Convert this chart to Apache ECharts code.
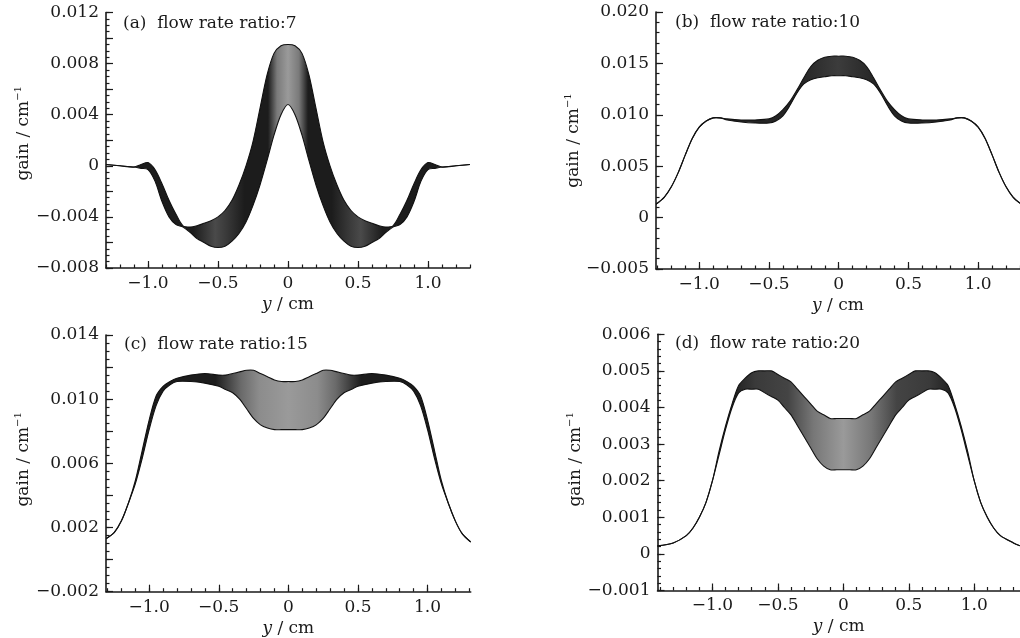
<!DOCTYPE html>
<html><head><meta charset="utf-8">
<script src="https://cdn.jsdelivr.net/npm/echarts@6/dist/echarts.min.js"></script>
<style>html,body{margin:0;padding:0;background:#fff}#c{width:1020px;height:638px}</style>
</head><body><div id="c"></div>
<script>
// ---------- data ----------
// (a) flow rate ratio 7 : envelope of the curve family
const aX = [-1.3,-1.2,-1.1,-1.05,-1.0,-0.95,-0.9,-0.85,-0.8,-0.75,-0.7,-0.65,-0.6,-0.55,-0.5,-0.45,-0.4,-0.35,-0.3,-0.25,-0.2,-0.15,-0.1,-0.05,0,
            0.05,0.1,0.15,0.2,0.25,0.3,0.35,0.4,0.45,0.5,0.55,0.6,0.65,0.7,0.75,0.8,0.85,0.9,0.95,1.0,1.05,1.1,1.2,1.3];
const aUpper = [0.0001,0.0000,-0.0001,0.0001,0.00025,-0.0003,-0.0014,-0.0027,-0.0038,-0.0047,-0.0048,-0.0047,-0.0045,-0.0043,-0.0040,-0.0035,-0.0027,-0.0015,0.0000,0.0019,0.0045,0.0071,0.0088,0.0094,0.0095,
            0.0094,0.0088,0.0071,0.0045,0.0019,0.0000,-0.0015,-0.0027,-0.0035,-0.0040,-0.0043,-0.0045,-0.0047,-0.0048,-0.0047,-0.0038,-0.0027,-0.0014,-0.0003,0.00025,0.0001,-0.0001,0.0000,0.0001];
const aLower = [0.0001,0.0000,-0.0001,-0.0002,-0.0003,-0.0012,-0.0028,-0.0040,-0.0046,-0.0048,-0.0052,-0.0057,-0.0060,-0.0063,-0.0064,-0.0063,-0.0059,-0.0053,-0.0044,-0.0031,-0.0015,0.0004,0.0024,0.0040,0.0048,
            0.0040,0.0024,0.0004,-0.0015,-0.0031,-0.0044,-0.0053,-0.0059,-0.0063,-0.0064,-0.0063,-0.0060,-0.0057,-0.0052,-0.0048,-0.0046,-0.0040,-0.0028,-0.0012,-0.0003,-0.0002,-0.0001,0.0000,0.0001];

// (b) flow rate ratio 10
const bX = [-1.31,-1.25,-1.2,-1.15,-1.1,-1.05,-1.0,-0.95,-0.9,-0.85,-0.8,-0.7,-0.6,-0.5,-0.45,-0.4,-0.35,-0.3,-0.25,-0.2,-0.15,-0.1,-0.05,0,
            0.05,0.1,0.15,0.2,0.25,0.3,0.35,0.4,0.45,0.5,0.6,0.7,0.8,0.85,0.9,0.95,1.0,1.05,1.1,1.15,1.2,1.25,1.3];
const bUpper = [0.0013,0.0020,0.0030,0.0044,0.0061,0.0077,0.0088,0.0094,0.0097,0.0097,0.0096,0.0095,0.0095,0.0096,0.0099,0.0105,0.0113,0.0124,0.0136,0.0147,0.0153,0.0156,0.0157,0.0157,
            0.0157,0.0156,0.0153,0.0147,0.0136,0.0124,0.0113,0.0105,0.0099,0.0096,0.0095,0.0095,0.0096,0.0097,0.0097,0.0094,0.0088,0.0077,0.0061,0.0044,0.0030,0.0020,0.0014];
const bLower = [0.0013,0.0020,0.0030,0.0044,0.0061,0.0077,0.0088,0.0094,0.0097,0.0097,0.0095,0.0093,0.0092,0.0092,0.0094,0.0099,0.0109,0.0121,0.0130,0.0134,0.0136,0.0137,0.0138,0.0138,
            0.0138,0.0137,0.0136,0.0134,0.0130,0.0121,0.0109,0.0099,0.0094,0.0092,0.0092,0.0093,0.0095,0.0097,0.0097,0.0094,0.0088,0.0077,0.0061,0.0044,0.0030,0.0020,0.0014];

// (c) flow rate ratio 15
const cX = [-1.31,-1.25,-1.2,-1.15,-1.1,-1.05,-1.0,-0.95,-0.9,-0.85,-0.8,-0.7,-0.6,-0.5,-0.45,-0.4,-0.35,-0.3,-0.25,-0.2,-0.15,-0.1,-0.05,0,
            0.05,0.1,0.15,0.2,0.25,0.3,0.35,0.4,0.45,0.5,0.6,0.7,0.8,0.85,0.9,0.95,1.0,1.05,1.1,1.15,1.2,1.25,1.31];
const cUpper = [0.0013,0.0017,0.0024,0.0035,0.0049,0.0068,0.0087,0.0102,0.0108,0.0111,0.0113,0.0115,0.0116,0.0115,0.0115,0.0116,0.0117,0.0118,0.0118,0.0116,0.0114,0.0112,0.0111,0.0111,
            0.0111,0.0112,0.0114,0.0116,0.0118,0.0118,0.0117,0.0116,0.0115,0.0115,0.0116,0.0115,0.0113,0.0111,0.0108,0.0102,0.0087,0.0068,0.0049,0.0035,0.0024,0.0016,0.0011];
const cLower = [0.0013,0.0017,0.0024,0.0035,0.0047,0.0063,0.0081,0.0096,0.0105,0.0109,0.0111,0.0111,0.0110,0.0108,0.0106,0.0104,0.0100,0.0094,0.0088,0.0084,0.0082,0.0081,0.0081,0.0081,
            0.0081,0.0081,0.0082,0.0084,0.0088,0.0094,0.0100,0.0104,0.0106,0.0108,0.0110,0.0111,0.0111,0.0109,0.0105,0.0096,0.0081,0.0063,0.0047,0.0035,0.0024,0.0016,0.0011];

// (d) flow rate ratio 20
const dX = [-1.42,-1.3,-1.2,-1.15,-1.1,-1.05,-1.0,-0.95,-0.9,-0.85,-0.8,-0.75,-0.7,-0.65,-0.6,-0.55,-0.5,-0.45,-0.4,-0.35,-0.3,-0.25,-0.2,-0.15,-0.1,-0.05,0,
            0.05,0.1,0.15,0.2,0.25,0.3,0.35,0.4,0.45,0.5,0.55,0.6,0.65,0.7,0.75,0.8,0.85,0.9,0.95,1.0,1.05,1.1,1.15,1.2,1.3,1.35];
const dUpper = [0.00022,0.0003,0.0005,0.0007,0.0010,0.0014,0.0020,0.0028,0.0035,0.0041,0.0046,0.0048,0.00495,0.0050,0.0050,0.0050,0.0049,0.0048,0.0047,0.0045,0.0043,0.0041,0.0039,0.0038,0.0037,0.0037,0.0037,
            0.0037,0.0037,0.0038,0.0039,0.0041,0.0043,0.0045,0.0047,0.0048,0.0049,0.0050,0.0050,0.0050,0.00495,0.0048,0.0046,0.0041,0.0035,0.0028,0.0020,0.0014,0.0010,0.0007,0.0005,0.0003,0.00022];
const dLower = [0.00022,0.0003,0.0005,0.0007,0.0010,0.0014,0.0020,0.0027,0.0034,0.0040,0.0044,0.0045,0.0045,0.0045,0.0044,0.0043,0.0042,0.0040,0.0038,0.0035,0.0032,0.0029,0.0026,0.0024,0.0023,0.0023,0.0023,
            0.0023,0.0023,0.0024,0.0026,0.0029,0.0032,0.0035,0.0038,0.0040,0.0042,0.0043,0.0044,0.0045,0.0045,0.0045,0.0044,0.0040,0.0034,0.0027,0.0020,0.0014,0.0010,0.0007,0.0005,0.0003,0.00022];

// tick labels
const xTickLabels = [-1.0,-0.5,0,0.5,1.0];
const aYTicks = [-0.008,-0.004,0,0.004,0.008,0.012];
const bYTicks = [-0.005,0,0.005,0.010,0.015,0.020];
const cYTicks = [-0.002,0.002,0.006,0.010,0.014];
const dYTicks = [-0.001,0,0.001,0.002,0.003,0.004,0.005,0.006];
const titles = ['(a)  flow rate ratio:7','(b)  flow rate ratio:10','(c)  flow rate ratio:15','(d)  flow rate ratio:20'];

// ---------- layout / style ----------
const FONT = 'DejaVu Serif';
const INK = '#1a1a1a';
function steps(min, max, step){
  const out=[]; const n0=Math.ceil(min/step-1e-9), n1=Math.floor(max/step+1e-9);
  for(let i=n0;i<=n1;i++) out.push(+(i*step).toFixed(6));
  return out;
}
function fmt(d){ return v => Math.abs(v)<1e-12 ? '0' : Number(v).toFixed(d).replace('-', '\u2212'); }
const G = echarts.graphic.LinearGradient;
const panels = [
  {x:aX, up:aUpper, lo:aLower, yLab:aYTicks, grid:{left:106, top:12.5, width:364, height:255.5},
   xMin:-1.3, xMax:1.3, yMin:-0.008, yMax:0.012, yMajor:0.002, yMinor:0.0005, tl:123, tt:15, namePad:[0,0,0,14],
   fill:new G(0,0,1,0,[{offset:0,color:'#1c1c1c'},{offset:0.24,color:'#1c1c1c'},{offset:0.30,color:'#4a4a4a'},{offset:0.33,color:'#3a3a3a'},{offset:0.38,color:'#1c1c1c'},{offset:0.445,color:'#1c1c1c'},{offset:0.47,color:'#7a7a7a'},{offset:0.5,color:'#9a9a9a'},{offset:0.53,color:'#7a7a7a'},{offset:0.555,color:'#1c1c1c'},{offset:0.62,color:'#1c1c1c'},{offset:0.67,color:'#3a3a3a'},{offset:0.70,color:'#4a4a4a'},{offset:0.76,color:'#1c1c1c'},{offset:1,color:'#1c1c1c'}])},
  {x:bX, up:bUpper, lo:bLower, yLab:bYTicks, grid:{left:656, top:12, width:364, height:257},
   xMin:-1.31, xMax:1.3, yMin:-0.005, yMax:0.020, yMajor:0.005, yMinor:0.001, tl:675, tt:14, namePad:[0,0,0,0],
   fill:new G(0,0,1,0,[{offset:0,color:'#222'},{offset:0.4,color:'#262626'},{offset:0.5,color:'#3c3c3c'},{offset:0.6,color:'#262626'},{offset:1,color:'#222'}])},
  {x:cX, up:cUpper, lo:cLower, yLab:cYTicks, grid:{left:106, top:335, width:364.7, height:256.7},
   xMin:-1.31, xMax:1.31, yMin:-0.002, yMax:0.014, yMajor:0.002, yMinor:0.0005, tl:124, tt:336, namePad:[0,0,0,8],
   fill:new G(0,0,1,0,[{offset:0,color:'#1c1c1c'},{offset:0.30,color:'#1c1c1c'},{offset:0.37,color:'#6a6a6a'},{offset:0.42,color:'#8c8c8c'},{offset:0.5,color:'#9a9a9a'},{offset:0.58,color:'#8c8c8c'},{offset:0.63,color:'#6a6a6a'},{offset:0.70,color:'#1c1c1c'},{offset:1,color:'#1c1c1c'}])},
  {x:dX, up:dUpper, lo:dLower, yLab:dYTicks, grid:{left:657.5, top:334.3, width:362.5, height:256.2},
   xMin:-1.42, xMax:1.35, yMin:-0.001, yMax:0.006, yMajor:0.001, yMinor:0.0002, tl:675, tt:335, namePad:[0,0,0,6],
   fill:new G(0,0,1,0,[{offset:0,color:'#1c1c1c'},{offset:0.20,color:'#1c1c1c'},{offset:0.27,color:'#3a3a3a'},{offset:0.36,color:'#444'},{offset:0.43,color:'#777'},{offset:0.513,color:'#9a9a9a'},{offset:0.59,color:'#777'},{offset:0.66,color:'#444'},{offset:0.75,color:'#3a3a3a'},{offset:0.82,color:'#1c1c1c'},{offset:1,color:'#1c1c1c'}])}
];

const axisLine = {show:true, onZero:false, lineStyle:{color:INK, width:1.6}};
const noLine = {show:false, onZero:false};
const tickStyle = {color:INK, width:1.2};
const SMOOTH = 0.3;
const option = {animation:false, backgroundColor:'#fff', title:[], grid:[], xAxis:[], yAxis:[], series:[]};

panels.forEach((p, i) => {
  option.grid.push(Object.assign({containLabel:false}, p.grid));
  option.title.push({text:titles[i], left:p.tl, top:p.tt, padding:0,
    textStyle:{fontFamily:FONT, fontSize:17, fontWeight:'normal', color:INK}});
  // x axes: major (labels) + minor ticks
  option.xAxis.push({gridIndex:i, type:'value', min:p.xMin, max:p.xMax, position:'bottom',
    axisLine, splitLine:{show:false},
    axisTick:{show:true, inside:true, length:7, lineStyle:tickStyle, customValues:xTickLabels},
    axisLabel:{customValues:xTickLabels, formatter:fmt(1), fontFamily:FONT, fontSize:17, color:INK, margin:7},
    name:'{i|y} / cm', nameLocation:'middle', nameGap:28,
    nameTextStyle:{fontFamily:FONT, fontSize:17, color:INK, rich:{i:{fontFamily:FONT, fontSize:17, fontStyle:'italic', color:INK}}}});
  option.xAxis.push({gridIndex:i, type:'value', min:p.xMin, max:p.xMax, position:'bottom',
    axisLine:noLine, splitLine:{show:false}, axisLabel:{show:false},
    axisTick:{show:true, inside:true, length:3.5, lineStyle:tickStyle, customValues:steps(p.xMin, p.xMax, 0.1)}});
  // y axes
  option.yAxis.push({gridIndex:i, type:'value', min:p.yMin, max:p.yMax, position:'left',
    axisLine, splitLine:{show:false},
    axisTick:{show:true, inside:true, length:7, lineStyle:tickStyle, customValues:steps(p.yMin, p.yMax, p.yMajor)},
    axisLabel:{customValues:p.yLab, formatter:fmt(3), fontFamily:FONT, fontSize:17, color:INK, margin:7},
    name:'{n|gain / cm}{s|\u22121}', nameLocation:'middle', nameGap:72,
    nameTextStyle:{padding:p.namePad, rich:{n:{fontFamily:FONT, fontSize:17, color:INK, lineHeight:20},
                         s:{fontFamily:FONT, fontSize:10, color:INK, verticalAlign:'top', lineHeight:20}}}});
  option.yAxis.push({gridIndex:i, type:'value', min:p.yMin, max:p.yMax, position:'left',
    axisLine:noLine, splitLine:{show:false}, axisLabel:{show:false},
    axisTick:{show:true, inside:true, length:3.5, lineStyle:tickStyle, customValues:steps(p.yMin, p.yMax, p.yMinor)}});
  // band between the lowest and highest curve of the family, drawn through the axes' scales
  option.series.push({type:'custom', xAxisIndex:2*i, yAxisIndex:2*i, clip:true, silent:true,
    data:[[0, 0]],
    renderItem:(params, api) => {
      const up = p.x.map((v,k)=>api.coord([v, p.up[k]]));
      const lo = p.x.map((v,k)=>api.coord([v, p.lo[k]]));
      return {type:'group', children:[
        {type:'polygon', shape:{points:up.concat(lo.slice().reverse()), smooth:SMOOTH}, style:{fill:p.fill, stroke:null}},
        {type:'polyline', shape:{points:up, smooth:SMOOTH}, style:{stroke:'#111', lineWidth:1.1, fill:null}},
        {type:'polyline', shape:{points:lo, smooth:SMOOTH}, style:{stroke:'#111', lineWidth:1.1, fill:null}}
      ]};
    }});
});

const chart = echarts.init(document.getElementById('c'), null, {renderer:'canvas'});
chart.setOption(option);
</script></body></html>
